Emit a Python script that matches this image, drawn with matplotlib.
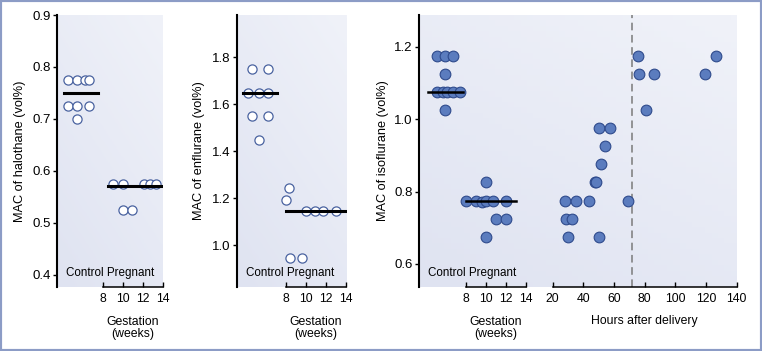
import matplotlib
matplotlib.use('Agg')
import matplotlib.pyplot as plt
import numpy as np
from matplotlib.colors import LinearSegmentedColormap
from matplotlib.patches import Rectangle

plt.rcParams['font.family'] = ['Liberation Sans', 'DejaVu Sans']

# ---- data ----
# halothane: control column (x = position in column), pregnant (weeks gestation)
halo_ctrl_x = [4.5, 5.4, 6.2, 6.6, 4.5, 5.4, 6.6, 5.4]
halo_ctrl_y = [0.775, 0.775, 0.775, 0.775, 0.725, 0.725, 0.725, 0.70]
halo_preg_wk = [9.0, 10.0, 12.1, 12.7, 13.3, 10.0, 10.9]
halo_preg_y = [0.575, 0.575, 0.575, 0.575, 0.575, 0.525, 0.525]
halo_means = [0.75, 0.57]

# enflurane
enf_ctrl_x = [4.57, 6.17, 4.17, 5.33, 6.17, 4.57, 6.17, 5.33]
enf_ctrl_y = [1.75, 1.75, 1.65, 1.65, 1.65, 1.55, 1.55, 1.45]
enf_preg_wk = [8.3, 8.0, 10.0, 10.9, 11.7, 13.0, 8.4, 9.6]
enf_preg_y = [1.245, 1.195, 1.145, 1.145, 1.145, 1.145, 0.945, 0.945]
enf_means = [1.65, 1.145]

# isoflurane
iso_ctrl_x = [5.07, 5.9, 6.73, 5.9, 5.1, 5.7, 6.1, 6.7, 7.4, 5.9]
iso_ctrl_y = [1.175, 1.175, 1.175, 1.125, 1.075, 1.075, 1.075, 1.075, 1.075, 1.025]
iso_preg_wk = [10.0, 8.0, 9.0, 9.6, 10.0, 10.7, 12.0, 11.0, 12.0, 10.0]
iso_preg_y = [0.825, 0.775, 0.775, 0.77, 0.775, 0.775, 0.775, 0.725, 0.725, 0.675]
iso_post_hr = [75.4, 126.3, 76.1, 86.1, 119.3, 80.9, 50.0, 57.6, 53.9, 51.5,
               47.6, 48.4, 28.0, 35.0, 43.5, 68.9, 28.5, 32.4, 29.8, 50.4]
iso_post_y = [1.175, 1.175, 1.125, 1.125, 1.125, 1.025, 0.975, 0.975, 0.925, 0.875,
              0.825, 0.825, 0.775, 0.775, 0.775, 0.775, 0.725, 0.725, 0.675, 0.675]
iso_means = [1.075, 0.775]
delivery_cut = 72

wk_ticks = [8, 10, 12, 14]
hr_ticks = [20, 40, 60, 80, 100, 120, 140]

W, H = 762, 351
bg_cmap = LinearSegmentedColormap.from_list('bg', ['#dfe3f1', '#f0f2f9'])
open_kw = dict(marker='o', ms=6.6, mfc='white', mec='#4a63a0', mew=0.9, ls='none', zorder=3)
fill_kw = dict(marker='o', ms=7.7, mfc='#5b7cbe', mec='#2e4a8c', mew=0.8, ls='none', zorder=3)


def px_rect(left, right, top=15, bottom=287):
    # pixel box -> figure fraction
    return [left / W, (H - bottom) / H, (right - left) / W, (bottom - top) / H]


def shade(ax):
    g = np.add.outer(np.linspace(0, 1, 50), np.linspace(0, 0.6, 50))
    ax.imshow(g, cmap=bg_cmap, extent=[0, 1, 0, 1], transform=ax.transAxes,
              aspect='auto', origin='lower', zorder=0, vmin=0, vmax=1.6)


def style_axes(ax, ylim, yticks, ylabel, label_x):
    ax.set_ylim(*ylim)
    ax.set_yticks(yticks)
    ax.set_yticklabels(['%.1f' % t for t in yticks])
    for s in ['top', 'right']:
        ax.spines[s].set_visible(False)
    ax.spines['left'].set_linewidth(1.5)
    ax.spines['bottom'].set_linewidth(1.1)
    ax.spines['bottom'].set_bounds(8, 14)
    ax.set_xticks(wk_ticks)
    ax.tick_params(axis='y', direction='out', length=3, width=1, pad=1.5, labelsize=9.5)
    ax.tick_params(axis='x', direction='in', length=3.5, width=1, pad=4, labelsize=8.8)
    ax.set_ylabel(ylabel, fontsize=9.2)
    ax.yaxis.set_label_coords(label_x, 0.5)
    ax.annotate('Control Pregnant', xy=(0, 0), xycoords='axes fraction', xytext=(6.5, 10),
                textcoords='offset points', va='center', ha='left', fontsize=8.4)
    ax.annotate('Gestation\n(weeks)', xy=(11, 0), xycoords=('data', 'axes fraction'),
                xytext=(0, -29.5), textcoords='offset points', va='center', ha='center',
                fontsize=8.8, linespacing=1.1)
    shade(ax)


fig = plt.figure(figsize=(W / 100, H / 100), dpi=100)

# halothane
ax1 = fig.add_axes(px_rect(57, 163))
ax1.set_xlim(3.4, 14.0)
style_axes(ax1, (0.376, 0.9), [0.4, 0.5, 0.6, 0.7, 0.8, 0.9], 'MAC of halothane (vol%)', -0.292)
ax1.plot(halo_ctrl_x, halo_ctrl_y, **open_kw)
ax1.plot(halo_preg_wk, halo_preg_y, **open_kw)
ax1.plot([4.1, 7.5], [halo_means[0]] * 2, color='black', lw=2.2, zorder=4)
ax1.plot([8.5, 14.0], [halo_means[1]] * 2, color='black', lw=2.2, zorder=4)

# enflurane
ax2 = fig.add_axes(px_rect(236.7, 346.5))
ax2.set_xlim(3.07, 14.05)
style_axes(ax2, (0.823, 1.98), [1.0, 1.2, 1.4, 1.6, 1.8], 'MAC of enflurane (vol%)', -0.289)
ax2.plot(enf_ctrl_x, enf_ctrl_y, **open_kw)
ax2.plot(enf_preg_wk, enf_preg_y, **open_kw)
ax2.plot([3.73, 7.07], [enf_means[0]] * 2, color='black', lw=2.2, zorder=4)
ax2.plot([8.0, 14.0], [enf_means[1]] * 2, color='black', lw=2.2, zorder=4)

# isoflurane: weeks axis + hours axis on the same box
ax3 = fig.add_axes(px_rect(419, 736.7))
ax3.set_xlim(3.3, 35.07)
style_axes(ax3, (0.5365, 1.287), [0.6, 0.8, 1.0, 1.2], 'MAC of isoflurane (vol%)', -0.096)
ax3.plot(iso_ctrl_x, iso_ctrl_y, **fill_kw)
ax3.plot(iso_preg_wk, iso_preg_y, **fill_kw)
ax3.plot([4.23, 7.67], [iso_means[0]] * 2, color='black', lw=1.8, zorder=4)
ax3.plot([8.0, 13.0], [iso_means[1]] * 2, color='black', lw=1.8, zorder=4)

ax3h = fig.add_axes(px_rect(419, 736.7), sharey=ax3)
ax3h.patch.set_visible(False)
ax3h.set_xlim(-67.2, 140)
for s in ['top', 'right', 'left']:
    ax3h.spines[s].set_visible(False)
ax3h.spines['bottom'].set_bounds(20, 140)
ax3h.spines['bottom'].set_linewidth(1.1)
ax3h.set_xticks(hr_ticks)
ax3h.tick_params(axis='x', direction='in', length=3.5, width=1, pad=4, labelsize=8.8)
ax3h.tick_params(axis='y', left=False, labelleft=False)
ax3h.axvline(delivery_cut, color='#7a7a7a', lw=1.1, ls=(0, (5, 3)), zorder=2)
ax3h.plot(iso_post_hr, iso_post_y, **fill_kw)
ax3h.annotate('Hours after delivery', xy=(80, 0), xycoords=('data', 'axes fraction'),
              xytext=(0, -24.5), textcoords='offset points', va='center', ha='center', fontsize=8.8)

# outer frame
fig.patches.append(Rectangle((0, 0), 1, 1, transform=fig.transFigure, fill=False,
                             edgecolor='#8c9cc6', lw=3, zorder=10))

plt.savefig('out.png', dpi=100)
